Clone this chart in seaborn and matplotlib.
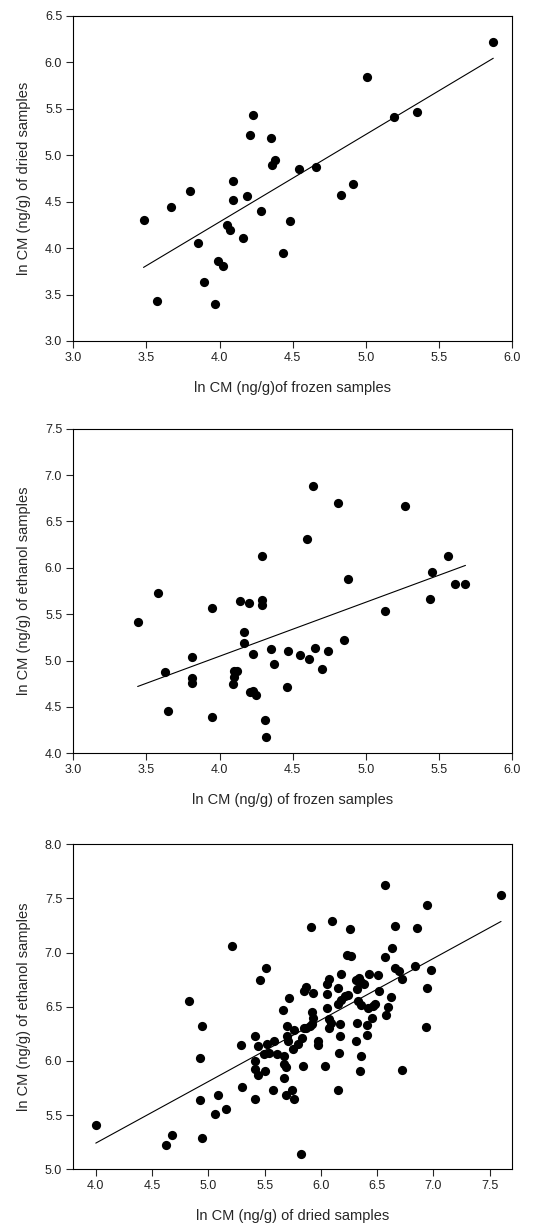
import numpy as np
import pandas as pd
import matplotlib
matplotlib.use("Agg")
import matplotlib.pyplot as plt
import seaborn as sns

# Panel A: frozen vs dried
frozen_a = [5.87, 5.01, 4.23, 4.21, 4.35, 4.38, 4.36, 4.54, 4.66, 5.19, 5.35,
            4.91, 4.83, 3.80, 4.09, 4.19, 4.09, 3.48, 3.67, 4.28, 4.48, 4.05,
            4.07, 4.16, 3.85, 4.43, 3.99, 4.02, 3.89, 3.57, 3.97]
dried_a = [6.22, 5.84, 5.43, 5.22, 5.18, 4.95, 4.89, 4.85, 4.87, 5.41, 5.46,
           4.69, 4.57, 4.61, 4.72, 4.56, 4.52, 4.30, 4.44, 4.40, 4.29, 4.25,
           4.19, 4.11, 4.05, 3.95, 3.86, 3.81, 3.64, 3.43, 3.40]

# Panel B: frozen vs ethanol
frozen_b = [4.64, 4.81, 5.27, 4.60, 4.29, 5.56, 5.45, 4.88, 3.58, 5.61, 5.68,
            3.44, 3.95, 4.14, 4.20, 4.29, 4.29, 5.44, 5.13, 4.17, 4.17, 4.23,
            4.35, 4.47, 4.55, 4.65, 4.61, 4.74, 4.70, 4.85, 4.37, 3.81, 3.63,
            3.81, 3.81, 4.10, 4.12, 4.10, 4.09, 4.21, 4.23, 4.25, 4.46, 3.65,
            3.95, 4.31, 4.32]
ethanol_b = [6.88, 6.70, 6.67, 6.31, 6.13, 6.13, 5.96, 5.88, 5.73, 5.83, 5.82,
             5.42, 5.57, 5.64, 5.62, 5.65, 5.60, 5.66, 5.53, 5.31, 5.19, 5.07,
             5.12, 5.10, 5.06, 5.13, 5.02, 5.10, 4.91, 5.22, 4.96, 5.04, 4.88,
             4.81, 4.76, 4.89, 4.89, 4.82, 4.75, 4.66, 4.67, 4.63, 4.71, 4.46,
             4.39, 4.36, 4.18]

# Panel C: dried vs ethanol
dried_c = [6.57, 7.60, 6.94, 5.91, 6.10, 6.26, 6.66, 6.85, 5.21, 6.63, 6.57,
           6.23, 6.27, 5.51, 5.46, 6.84, 6.98, 6.66, 6.69, 6.72, 6.94, 4.83,
           5.72, 5.66, 5.85, 5.87, 5.93, 6.07, 6.05, 6.05, 6.15, 6.18, 6.31,
           6.34, 6.36, 6.38, 6.43, 6.51, 6.32, 6.52, 6.15, 6.18, 6.21, 6.24,
           6.33, 6.36, 6.42, 6.46, 6.48, 6.60, 6.62, 6.05, 5.92, 6.58, 6.45,
           6.07, 5.93,
           4.94, 4.93, 4.00, 4.62, 4.68, 4.94, 4.93, 5.09, 5.06, 5.16, 5.29,
           5.30, 5.41, 5.44, 5.41, 5.41, 5.44, 5.50, 5.41, 5.52, 5.54, 5.49,
           5.58, 5.61, 5.57, 5.67, 5.67, 5.69, 5.67, 5.69, 5.74, 5.76, 5.70,
           5.70, 5.71, 5.75, 5.76, 5.80, 5.83, 5.85, 5.87, 5.90, 5.92, 5.84,
           5.82, 5.97, 5.97, 6.04, 6.07, 6.09, 6.17, 6.17, 6.16, 6.15, 6.31,
           6.32, 6.36, 6.35, 6.41, 6.41, 6.72, 6.93]
ethanol_c = [7.62, 7.53, 7.44, 7.24, 7.29, 7.22, 7.25, 7.23, 7.06, 7.04, 6.96,
             6.98, 6.97, 6.86, 6.75, 6.88, 6.84, 6.86, 6.83, 6.76, 6.67, 6.55,
             6.58, 6.47, 6.65, 6.68, 6.63, 6.76, 6.71, 6.62, 6.67, 6.80, 6.75,
             6.77, 6.73, 6.71, 6.80, 6.79, 6.66, 6.65, 6.53, 6.56, 6.60, 6.61,
             6.55, 6.52, 6.49, 6.51, 6.53, 6.50, 6.59, 6.49, 6.45, 6.42, 6.40,
             6.39, 6.40,
             6.32, 6.03, 5.41, 5.22, 5.32, 5.29, 5.64, 5.69, 5.51, 5.56, 6.15,
             5.76, 6.23, 6.14, 6.00, 5.93, 5.87, 5.91, 5.65, 6.16, 6.07, 6.06,
             6.18, 6.06, 5.73, 6.05, 5.97, 5.94, 5.84, 5.69, 5.73, 5.65, 6.32,
             6.23, 6.18, 6.11, 6.29, 6.16, 6.21, 6.30, 6.30, 6.32, 6.34, 5.95,
             5.14, 6.18, 6.15, 5.95, 6.30, 6.35, 6.34, 6.23, 6.07, 5.73, 6.18,
             6.35, 6.05, 5.91, 6.33, 6.24, 5.92, 6.31]

panels = [
    dict(x=frozen_a, y=dried_a, xlim=(3.0, 6.0), ylim=(3.0, 6.5),
         xticks=np.arange(3.0, 6.01, 0.5), yticks=np.arange(3.0, 6.51, 0.5),
         xlabel="ln CM (ng/g)of frozen samples",
         ylabel="ln CM (ng/g) of dried samples",
         rect=[0.1362, 0.7221, 0.8160, 0.2651]),
    dict(x=frozen_b, y=ethanol_b, xlim=(3.0, 6.0), ylim=(4.0, 7.5),
         xticks=np.arange(3.0, 6.01, 0.5), yticks=np.arange(4.0, 7.51, 0.5),
         xlabel="ln CM (ng/g) of frozen samples",
         ylabel="ln CM (ng/g) of ethanol samples",
         rect=[0.1362, 0.3861, 0.8160, 0.2645]),
    dict(x=dried_c, y=ethanol_c, xlim=(3.8, 7.7), ylim=(5.0, 8.0),
         xticks=np.arange(4.0, 7.51, 0.5), yticks=np.arange(5.0, 8.01, 0.5),
         xlabel="ln CM (ng/g) of dried samples",
         ylabel="ln CM (ng/g) of ethanol samples",
         rect=[0.1362, 0.0470, 0.8160, 0.2649]),
]

sns.set_style("ticks")
plt.rcParams["font.family"] = ["Liberation Sans", "DejaVu Sans"]

fig = plt.figure(figsize=(5.38, 12.27), dpi=100)

for p in panels:
    ax = fig.add_axes(p["rect"])
    df = pd.DataFrame({"x": p["x"], "y": p["y"]})
    sns.regplot(data=df, x="x", y="y", ax=ax, ci=None, truncate=True,
                color="black",
                scatter_kws=dict(s=44, alpha=1, linewidths=0, zorder=3),
                line_kws=dict(lw=0.8, color="black"))
    ax.set_xlim(*p["xlim"])
    ax.set_ylim(*p["ylim"])
    ax.set_xticks(p["xticks"])
    ax.set_yticks(p["yticks"])
    ax.set_xticklabels([f"{v:.1f}" for v in p["xticks"]])
    ax.set_yticklabels([f"{v:.1f}" for v in p["yticks"]])
    ax.tick_params(direction="out", length=5, width=0.8, labelsize=9,
                   labelcolor="#222222", pad=3, top=False, right=False)
    for side in ax.spines.values():
        side.set_visible(True)
        side.set_linewidth(0.8)
        side.set_color("black")
    ax.set_xlabel(p["xlabel"], fontsize=10.5, labelpad=12)
    ax.set_ylabel(p["ylabel"], fontsize=10.5, labelpad=10)

fig.savefig("out.png", dpi=100, facecolor="white")
